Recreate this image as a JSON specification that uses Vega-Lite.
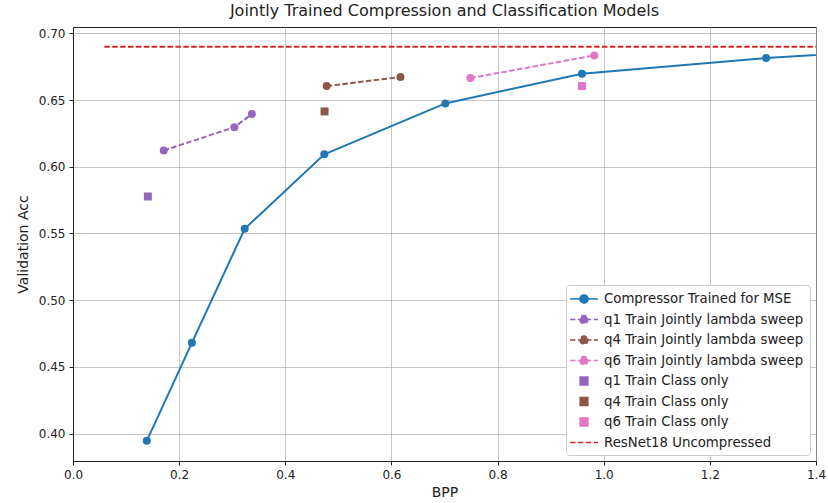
{
  "$schema": "https://vega.github.io/schema/vega-lite/v6.json",
  "autosize": {"type": "none"},
  "padding": {"left": 73, "top": 27, "right": 12, "bottom": 42},
  "width": 743,
  "height": 434,
  "background": "white",
  "config": {
    "font": "DejaVu Sans",
    "view": {"stroke": "#222", "strokeWidth": 1},
    "axis": {
      "labelFont": "DejaVu Sans", "labelFontSize": 12, "labelColor": "#222", "labelFlush": false,
      "titleFont": "DejaVu Sans", "titleFontSize": 14, "titleFontWeight": "normal", "titleColor": "#222",
      "gridColor": "#b0b0b0", "gridWidth": 0.8, "gridOpacity": 0.9,
      "tickColor": "#222", "tickSize": 4, "domainColor": "#222", "labelPadding": 4
    },
    "title": {"font": "DejaVu Sans", "fontSize": 16, "fontWeight": "normal", "color": "#222"}
  },
  "title": {"text": "Jointly Trained Compression and Classification Models", "offset": 8},
  "data": {"values": [
    {"series": "Compressor Trained for MSE", "kind": "solid", "bpp": 0.139, "acc": 0.3945},
    {"series": "Compressor Trained for MSE", "kind": "solid", "bpp": 0.224, "acc": 0.468},
    {"series": "Compressor Trained for MSE", "kind": "solid", "bpp": 0.3235, "acc": 0.5535},
    {"series": "Compressor Trained for MSE", "kind": "solid", "bpp": 0.4736, "acc": 0.6093},
    {"series": "Compressor Trained for MSE", "kind": "solid", "bpp": 0.7016, "acc": 0.6475},
    {"series": "Compressor Trained for MSE", "kind": "solid", "bpp": 0.959, "acc": 0.6698},
    {"series": "Compressor Trained for MSE", "kind": "solid", "bpp": 1.306, "acc": 0.6815},
    {"series": "Compressor Trained for MSE", "kind": "solid", "bpp": 1.6, "acc": 0.689},
    {"series": "q1 Train Jointly lambda sweep", "kind": "sweep", "bpp": 0.171, "acc": 0.6122},
    {"series": "q1 Train Jointly lambda sweep", "kind": "sweep", "bpp": 0.304, "acc": 0.6297},
    {"series": "q1 Train Jointly lambda sweep", "kind": "sweep", "bpp": 0.337, "acc": 0.6395},
    {"series": "q4 Train Jointly lambda sweep", "kind": "sweep", "bpp": 0.478, "acc": 0.6605},
    {"series": "q4 Train Jointly lambda sweep", "kind": "sweep", "bpp": 0.617, "acc": 0.6673},
    {"series": "q6 Train Jointly lambda sweep", "kind": "sweep", "bpp": 0.7487, "acc": 0.6665},
    {"series": "q6 Train Jointly lambda sweep", "kind": "sweep", "bpp": 0.9823, "acc": 0.6835},
    {"series": "q1 Train Class only", "kind": "class", "bpp": 0.141, "acc": 0.5777},
    {"series": "q4 Train Class only", "kind": "class", "bpp": 0.474, "acc": 0.6415},
    {"series": "q6 Train Class only", "kind": "class", "bpp": 0.959, "acc": 0.6605},
    {"series": "ResNet18 Uncompressed", "kind": "ref", "bpp": 0.059, "acc": 0.69},
    {"series": "ResNet18 Uncompressed", "kind": "ref", "bpp": 1.6, "acc": 0.69}
  ]},
  "encoding": {
    "x": {"field": "bpp", "type": "quantitative", "title": "BPP",
      "scale": {"domain": [0, 1.4], "nice": false, "zero": false},
      "axis": {"values": [0, 0.2, 0.4, 0.6, 0.8, 1.0, 1.2, 1.4], "format": ".1f", "titlePadding": 5}},
    "y": {"field": "acc", "type": "quantitative", "title": "Validation Acc",
      "scale": {"domain": [0.3794, 0.7048], "nice": false, "zero": false},
      "axis": {"values": [0.40, 0.45, 0.50, 0.55, 0.60, 0.65, 0.70], "format": ".2f", "titlePadding": 8}},
    "color": {"field": "series", "type": "nominal", "title": null,
      "scale": {
        "domain": ["Compressor Trained for MSE", "q1 Train Jointly lambda sweep", "q4 Train Jointly lambda sweep", "q6 Train Jointly lambda sweep", "q1 Train Class only", "q4 Train Class only", "q6 Train Class only", "ResNet18 Uncompressed"],
        "range": ["#1f77b4", "#9467bd", "#8c564b", "#e377c2", "#9467bd", "#8c564b", "#e377c2", "#d62728"]
      },
      "legend": {
        "orient": "bottom-right", "offset": 6,
        "fillColor": "white", "strokeColor": "#cccccc", "cornerRadius": 3, "padding": 6,
        "labelFont": "DejaVu Sans", "labelFontSize": 13.3, "labelColor": "#222", "labelLimit": 400,
        "symbolSize": 196, "symbolType": "circle", "rowPadding": 4.5,
        "symbolOffset": 4, "labelOffset": 12, "symbolStrokeWidth": 1.6,
        "encode": {"symbols": {"update": {
          "shape": {"signal": "indexof(datum.value, 'Class only') >= 0 ? 'M-0.55,-0.55L0.55,-0.55L0.55,0.55L-0.55,0.55Z' : (datum.value === 'ResNet18 Uncompressed' ? 'M-2,0L2,0' : 'M-2,0L2,0M-0.57,0A0.57,0.57 0 1,0 0.57,0A0.57,0.57 0 1,0 -0.57,0Z')"},
          "strokeDash": {"signal": "(datum.value === 'Compressor Trained for MSE' || indexof(datum.value, 'Class only') >= 0) ? [1, 0] : [5.5, 2.4]"}
        }}}
      }
    }
  },
  "layer": [
    {
      "transform": [{"filter": "datum.kind === 'solid'"}],
      "mark": {"type": "line", "strokeWidth": 2, "clip": true}
    },
    {
      "transform": [{"filter": "datum.kind === 'sweep' || datum.kind === 'ref'"}],
      "mark": {"type": "line", "strokeWidth": 2, "strokeDash": [5.5, 2.4], "clip": true}
    },
    {
      "transform": [{"filter": "datum.kind !== 'ref'"}],
      "mark": {"type": "point", "filled": true, "opacity": 1, "size": 64, "clip": true},
      "encoding": {
        "shape": {"field": "kind", "type": "nominal", "legend": null,
          "scale": {"domain": ["solid", "sweep", "class"], "range": ["circle", "circle", "square"]}}
      }
    }
  ]
}
